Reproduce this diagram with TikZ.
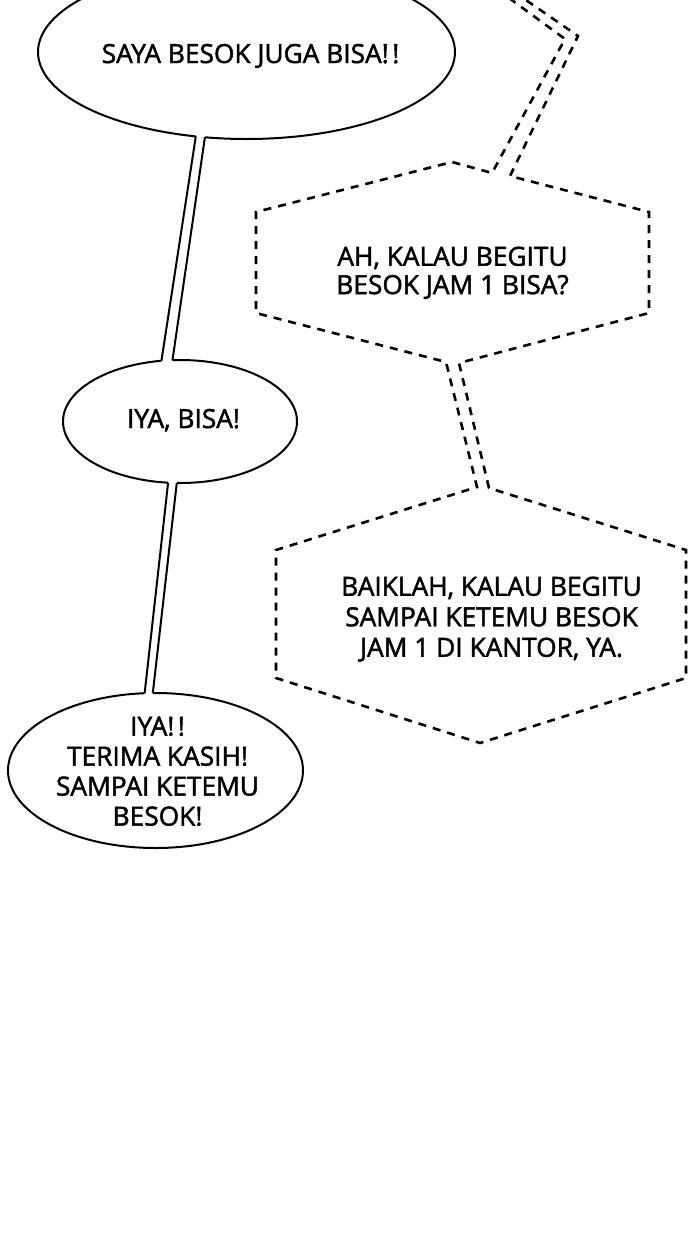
\documentclass[tikz,border=0pt]{standalone}
\usepackage{fontspec}
\setmainfont{Open Sans}[FakeBold=1.8]
\usetikzlibrary{shapes.geometric,calc}
\newcommand{\bangs}{!\kern3.5pt!}
\begin{document}
\begin{tikzpicture}[x=1pt,y=-1pt,
  balloon/.style={ellipse, draw=black, line width=2pt, fill=white, inner sep=0pt, outer sep=0pt},
  tailline/.style={line width=2pt, line cap=butt},
  tailfill/.style={fill=white},
  dashline/.style={line width=2.6pt, dash pattern=on 8pt off 7pt, line join=miter},
  txt/.style={font=\fontsize{26.3}{30}\selectfont, inner sep=0pt, align=center}]
\fill[white] (0,0) rectangle (700,1240);
\useasboundingbox (0,0) rectangle (700,1240);

% dashed balloons with their tails (one continuous outline)
\draw[dashline] (509,-2) -- (565,39) -- (492,173) -- (452,162) -- (256,212) -- (256,313)
  -- (446,362) -- (477,487) -- (276,550) -- (276,678) -- (480,743) -- (686,678)
  -- (686,550) -- (489,488) -- (459,363) -- (649,313) -- (649,212) -- (510,176)
  -- (578,36) -- (523,-2);

% solid balloons
\node[balloon, minimum width=417pt, minimum height=174pt] (e1) at (246.5,52) {};
\node[balloon, minimum width=234pt, minimum height=123pt] (e2) at (180,421.5) {};
\node[balloon, minimum width=295pt, minimum height=155pt] (e3) at (155.5,770.5) {};

% tail e1 -> e2
\coordinate (a1) at (e1.-121.7);
\coordinate (b1) at (e2.107.4);
\coordinate (c1) at (e1.-116.6);
\coordinate (d1) at (e2.97.5);
\fill[tailfill] ($(a1)!-5pt!(b1)$) -- ($(b1)!-5pt!(a1)$) -- ($(d1)!-5pt!(c1)$) -- ($(c1)!-5pt!(d1)$) -- cycle;
\draw[tailline] (a1) -- (b1);
\draw[tailline] (c1) -- (d1);

% tail e2 -> e3
\coordinate (a2) at (e2.-101.9);
\coordinate (b2) at (e3.98.5);
\coordinate (c2) at (e2.-93.7);
\coordinate (d2) at (e3.92.6);
\fill[tailfill] ($(a2)!-5pt!(b2)$) -- ($(b2)!-5pt!(a2)$) -- ($(d2)!-5pt!(c2)$) -- ($(c2)!-5pt!(d2)$) -- cycle;
\draw[tailline] (a2) -- (b2);
\draw[tailline] (c2) -- (d2);

% texts
\node[txt, anchor=base] (t1) at (250.5,63) {SAYA BESOK JUGA BISA\bangs};
\node[txt, anchor=base] (t2) at (183.5,428) {IYA, BISA!};
\node[txt, anchor=north] (t3) at (157.5,716.5) {IYA\bangs\\TERIMA KASIH!\\SAMPAI KETEMU\\BESOK!};
\node[txt, anchor=north, font=\fontsize{26.3}{28.3}\selectfont] (h1) at (452.5,246.5) {AH, KALAU BEGITU\\BESOK JAM 1 BISA?};
\node[txt, anchor=north, font=\fontsize{26.3}{30.5}\selectfont] (h2) at (491.5,576.5) {BAIKLAH, KALAU BEGITU\\SAMPAI KETEMU BESOK\\JAM 1 DI KANTOR, YA.};
\end{tikzpicture}
\end{document}
